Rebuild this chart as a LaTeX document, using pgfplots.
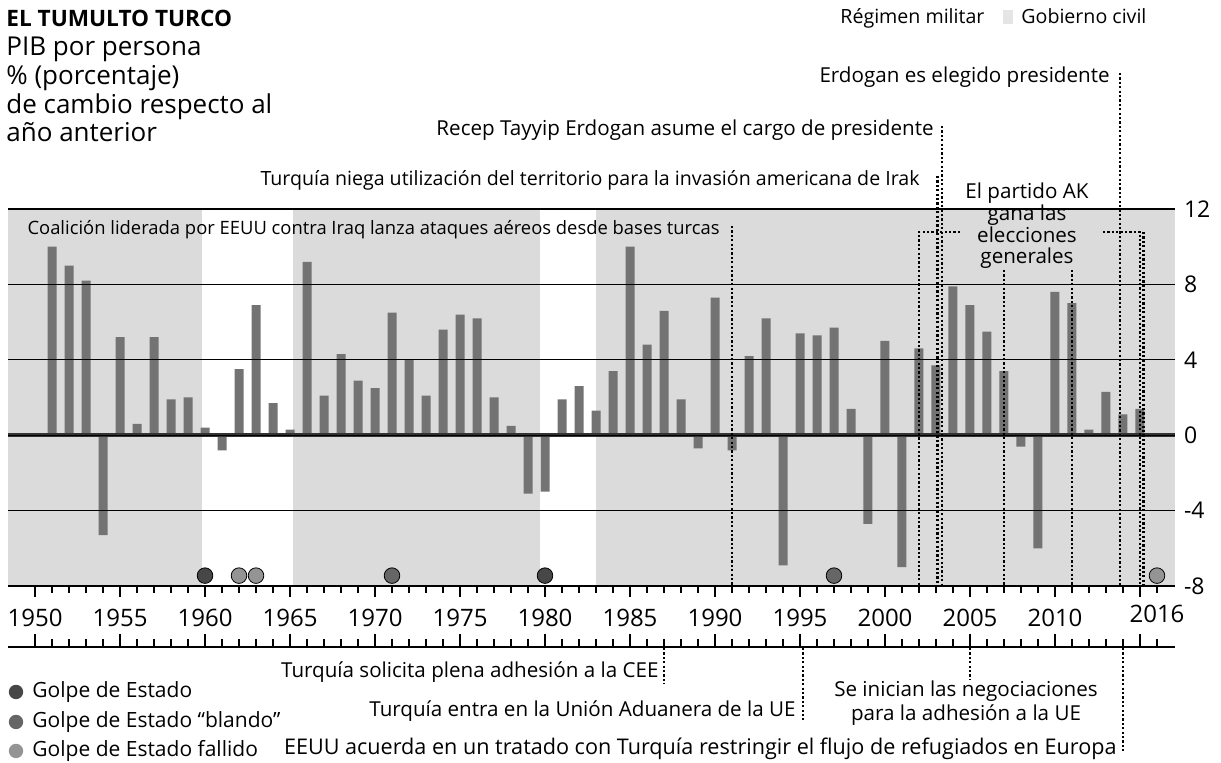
\documentclass[border=0pt]{standalone}
\usepackage{fontspec}
\setmainfont{Open Sans}
\usepackage{pgfplots}
\usepackage{pgfplotstable}
\pgfplotsset{compat=1.18}

\pgfplotstableread{
year val
1951 10.0
1952 9.0
1953 8.2
1954 -5.3
1955 5.2
1956 0.6
1957 5.2
1958 1.9
1959 2.0
1960 0.4
1961 -0.8
1962 3.5
1963 6.9
1964 1.7
1965 0.3
1966 9.2
1967 2.1
1968 4.3
1969 2.9
1970 2.5
1971 6.5
1972 4.0
1973 2.1
1974 5.6
1975 6.4
1976 6.2
1977 2.0
1978 0.5
1979 -3.1
1980 -3.0
1981 1.9
1982 2.6
1983 1.3
1984 3.4
1985 10.0
1986 4.8
1987 6.6
1988 1.9
1989 -0.7
1990 7.3
1991 -0.8
1992 4.2
1993 6.2
1994 -6.9
1995 5.4
1996 5.3
1997 5.7
1998 1.4
1999 -4.7
2000 5.0
2001 -7.0
2002 4.6
2003 3.7
2004 7.9
2005 6.9
2006 5.5
2007 3.4
2008 -0.6
2009 -6.0
2010 7.6
2011 7.0
2012 0.3
2013 2.3
2014 1.1
2015 1.4
}\gdp

\pgfplotstableread{
year val
1960 -7.45
1980 -7.45
}\golpe
\pgfplotstableread{
year val
1971 -7.45
1997 -7.45
}\blando
\pgfplotstableread{
year val
1962 -7.45
1963 -7.45
2016 -7.45
}\fallido

\newcommand{\fs}[1]{\fontsize{#1}{#1}\selectfont}

\begin{document}
\begin{tikzpicture}
\begin{scope}[x=0.5pt,y=-0.5pt,shift={(-4pt,293pt)}]
\path[use as bounding box] (0,0) rectangle (1221,763);
\end{scope}

\begin{axis}[
  at={(0,0)}, anchor=south west,
  scale only axis, width=583.5pt, height=188.5pt,
  xmin=1948.41, xmax=2017.06, ymin=-8, ymax=12,
  clip=false, axis on top,
  axis x line*=bottom, axis y line*=right,
  y axis line style={draw=none},
  x axis line style={line width=1.4pt},
  xtick={1950,1955,...,2015},
  xticklabels={1950,1955,1960,1965,1970,1975,1980,1985,1990,1995,2000,2005,2010,{}},
  minor x tick num=4,
  extra x ticks={2016}, extra x tick labels={2016},
  extra x tick style={major tick length=3.5pt},
  tick align=outside,
  major tick length=5.5pt, minor tick length=3.5pt,
  x tick style={black, line width=1pt},
  xticklabel style={font=\fs{12}, yshift=-2.5pt},
  ytick={-8,-4,0,4,8,12},
  yticklabels={-8,-4,0,4,8,12},
  yticklabel pos=right,
  y tick style={draw=none},
  yticklabel style={font=\fs{11.5}, anchor=west, xshift=-4.5pt},
  ymajorgrids=true,
  grid style={black, line width=0.6pt},
]
% civil government shading
\addplot[fill=black!14, draw=none] coordinates {(1948.41,-8) (1948.41,12) (1959.8,12) (1959.8,-8)} -- cycle;
\addplot[fill=black!14, draw=none] coordinates {(1965.2,-8) (1965.2,12) (1979.7,12) (1979.7,-8)} -- cycle;
\addplot[fill=black!14, draw=none] coordinates {(1983.0,-8) (1983.0,12) (2017.06,12) (2017.06,-8)} -- cycle;
% bars
\addplot[ybar, bar width=4.5pt, bar shift=0pt, fill=black!55, draw=none] table[x=year,y=val]{\gdp};
% zero line
\addplot[draw=black!80, line width=1.8pt] coordinates {(1948.41,0) (2017.06,0)};
% coups
\addplot[only marks, mark=*, mark size=3.9pt, mark options={fill=black!72, draw=none}] table[x=year,y=val]{\golpe};
\addplot[only marks, mark=*, mark size=3.9pt, mark options={fill=black!60, draw=none}] table[x=year,y=val]{\blando};
\addplot[only marks, mark=*, mark size=3.9pt, mark options={fill=black!42, draw=none}] table[x=year,y=val]{\fallido};
\end{axis}

% lower ruler
\begin{axis}[
  at={(0,-30.5pt)}, anchor=south west,
  scale only axis, width=583.5pt, height=1pt,
  xmin=1948.41, xmax=2017.06, ymin=0, ymax=1,
  axis x line*=bottom, axis y line=none,
  x axis line style={line width=1.4pt},
  xtick={1950,1955,...,2015}, xticklabels={},
  minor x tick num=4,
  extra x ticks={2016}, extra x tick labels={},
  extra x tick style={major tick length=3.8pt},
  tick align=inside,
  major tick length=6.3pt, minor tick length=3.8pt,
  x tick style={black, line width=1pt},
]
\end{axis}

\begin{scope}[x=0.5pt,y=-0.5pt,shift={(-4pt,293pt)}]
\tikzset{t/.style={inner sep=0pt, font=\fs{10.3}},
  dl/.style={black, line width=1.3pt, dash pattern=on 1.1pt off 1.1pt}}
% title block
\node[anchor=base west, inner sep=0pt, font=\bfseries\fs{11.3}] at (6,27) {EL TUMULTO TURCO};
\node[anchor=base west, inner sep=0pt, font=\fs{13}] at (6,56) {PIB por persona};
\node[anchor=base west, inner sep=0pt, font=\fs{13}] at (6,85) {\% (porcentaje)};
\node[anchor=base west, inner sep=0pt, font=\fs{13}] at (6,114) {de cambio respecto al};
\node[anchor=base west, inner sep=0pt, font=\fs{13}] at (6,142) {año anterior};
% top legend
\node[t, anchor=base west, font=\fs{9.8}] at (840,24) {Régimen militar};
\fill[black!10] (1003,10) rectangle (1013,24);
\node[t, anchor=base west, font=\fs{9.8}] at (1021,24) {Gobierno civil};
% top annotations
\node[t, anchor=base east, font=\fs{9.2}] at (720,235) {Coalición liderada por EEUU contra Iraq lanza ataques aéreos desde bases turcas};
\draw[dl] (732,226) -- (732,586);
\node[t, anchor=base east, font=\fs{9.8}] at (920,186) {Turquía niega utilización del territorio para la invasión americana de Irak};
\draw[dl] (937.7,176) -- (937.7,586);
\node[t, anchor=base east] at (934,136) {Recep Tayyip Erdogan asume el cargo de presidente};
\draw[dl] (942,126) -- (942,586);
\node[t, anchor=base east] at (1110,83) {Erdogan es elegido presidente};
\draw[dl] (1120,73) -- (1120,586);
% AK
\node[t, anchor=base] at (1027,199) {El partido AK};
\node[t, anchor=base] at (1027,221) {gana las};
\node[t, anchor=base] at (1027,243) {elecciones};
\node[t, anchor=base] at (1027,264) {generales};
\draw[dl] (960,232) -- (919,232) -- (919,586);
\draw[dl] (1004,270) -- (1004,586);
\draw[dl] (1072,270) -- (1072,586);
\draw[dl] (1103,232) -- (1140,232) -- (1140,586);
\draw[dl] (1143.5,232) -- (1143.5,586);
% bottom annotations
\draw[dl] (664,648) -- (664,684);
\node[t, anchor=base east] at (659,678) {Turquía solicita plena adhesión a la CEE};
\draw[dl] (803,648) -- (803,720);
\node[t, anchor=base east] at (796,717) {Turquía entra en la Unión Aduanera de la UE};
\draw[dl] (970,648) -- (970,680);
\node[t, anchor=base] at (966,697) {Se inician las negociaciones};
\node[t, anchor=base] at (966,721) {para la adhesión a la UE};
\draw[dl] (1123,648) -- (1123,752);
\node[t, anchor=base east, font=\fs{10.8}] at (1117,755) {EEUU acuerda en un tratado con Turquía restringir el flujo de refugiados en Europa};
% coup legend
\fill[black!72] (16,692) circle[radius=3.6pt];
\fill[black!60] (16,722) circle[radius=3.6pt];
\fill[black!42] (16,751) circle[radius=3.6pt];
\node[t, anchor=base west, font=\fs{10.5}] at (32,698) {Golpe de Estado};
\node[t, anchor=base west, font=\fs{10.5}] at (32,728) {Golpe de Estado “blando”};
\node[t, anchor=base west, font=\fs{10.5}] at (32,757) {Golpe de Estado fallido};
\end{scope}
\end{tikzpicture}
\end{document}
